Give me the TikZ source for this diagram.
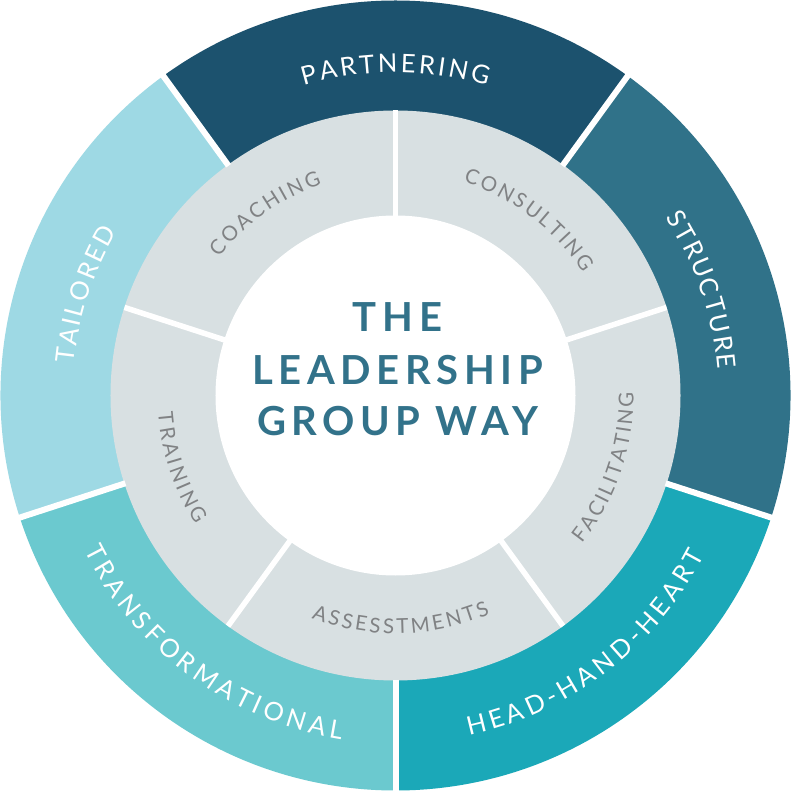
\documentclass[tikz,border=0pt]{standalone}
\usepackage{fontspec}
\usetikzlibrary{decorations.text}
\newfontfamily\lgLato{Lato}
\newfontfamily\lgCenterFont[LetterSpace=14]{Lato}
\newcommand\lgOuter{\lgLato\fontsize{25.5}{25.5}\selectfont}
\newcommand\lgInner{\lgLato\fontsize{20.5}{20.5}\selectfont}
\definecolor{cPartner}{HTML}{1C526E}
\definecolor{cStruct}{HTML}{307289}
\definecolor{cHHH}{HTML}{1BA8B8}
\definecolor{cTrans}{HTML}{6BC9CF}
\definecolor{cTailor}{HTML}{9ED9E4}
\definecolor{cGray}{HTML}{D8E0E2}
\definecolor{cInnerText}{HTML}{808284}
\definecolor{cCenter}{HTML}{32728A}
\newcommand\lgSector[5]{\fill[#1] (#2:#4) arc[start angle=#2, end angle=#3, radius=#4] -- (#3:#5) arc[start angle=#3, end angle=#2, radius=#5] -- cycle;}
\tikzset{
  outerlbl/.style={decorate, decoration={text along path, text color=white, text align={fit to path}, text={|\lgOuter|#1}}},
  innerlbl/.style={decorate, decoration={text along path, text color=cInnerText, text align={fit to path}, text={|\lgInner|#1}}},
  divider/.style={white, line width=6pt},
  titleline/.style={anchor=base, text=cCenter, font=\lgCenterFont\bfseries\fontsize{40}{40}\selectfont, inner sep=0pt}
}
\begin{document}
\begin{tikzpicture}
\useasboundingbox (-395.5pt,-395.5pt) rectangle (395.5pt,395.5pt);
\fill[white] (-395.5pt,-395.5pt) rectangle (395.5pt,395.5pt);
% outer ring
\lgSector{cPartner}{54}{126}{395pt}{284pt}
\lgSector{cTailor}{126}{198}{395pt}{284pt}
\lgSector{cTrans}{198}{270}{395pt}{284pt}
\lgSector{cHHH}{270}{342}{395pt}{284pt}
\lgSector{cStruct}{342}{414}{395pt}{284pt}
% inner ring
\fill[cGray] (0,0) circle[radius=285pt];
\fill[white] (0,0) circle[radius=180pt];
% dividers
\foreach \a in {54,126,198,270,342} \draw[divider] (\a:284pt) -- (\a:397pt);
\foreach \a in {90,18,-54,-126,162} \draw[divider, line width=5.5pt] (\a:178pt) -- (\a:285pt);
% outer labels
\path[outerlbl=PARTNERING] (106.5:323pt) arc[start angle=106.5, end angle=73.5, radius=323pt];
\path[outerlbl=TAILORED] (174.4:323pt) arc[start angle=174.4, end angle=149.6, radius=323pt];
\path[outerlbl=STRUCTURE] (33.4:323pt) arc[start angle=33.4, end angle=4.6, radius=323pt];
\path[outerlbl=TRANSFORMATIONAL] (206.5:348pt) arc[start angle=206.5, end angle=261, radius=348pt];
\path[outerlbl=HEAD-HAND-HEART] (282.2:348pt) arc[start angle=282.2, end angle=332.6, radius=348pt];
% inner labels
\path[innerlbl=COACHING] (142:224pt) arc[start angle=142, end angle=109.2, radius=224pt];
\path[innerlbl=CONSULTING] (72.4:224pt) arc[start angle=72.4, end angle=33.2, radius=224pt];
\path[innerlbl=FACILITATING] (-38.5:238pt) arc[start angle=-38.5, end angle=0.8, radius=238pt];
\path[innerlbl=ASSESSTMENTS] (249.3:238pt) arc[start angle=249.3, end angle=293.4, radius=238pt];
\path[innerlbl=TRAINING] (184.2:238pt) arc[start angle=184.2, end angle=212.9, radius=238pt];
% centre title
\node[titleline] (ctitle1) at (2pt,64pt) {THE};
\node[titleline] (ctitle2) at (2pt,10.5pt) {LEADERSHIP};
\node[titleline] (ctitle3) at (2pt,-40.5pt) {GROUP WAY};
\end{tikzpicture}
\end{document}
